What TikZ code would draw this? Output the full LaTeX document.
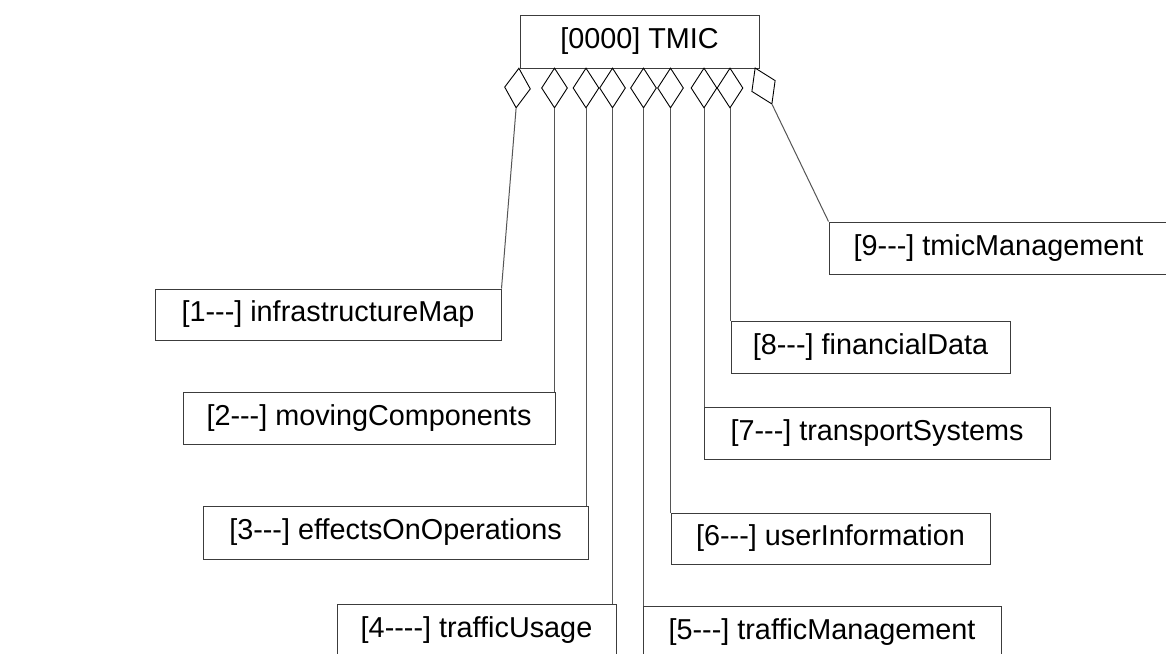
\documentclass[tikz,border=0pt]{standalone}
\usepackage{fontspec}
\setmainfont{Liberation Sans}[Ligatures=TeXOff]
\usetikzlibrary{shapes.geometric}
\definecolor{boxline}{RGB}{60,60,60}
\definecolor{conn}{RGB}{85,85,85}
\tikzset{
  box/.style={draw=boxline, line width=1pt, rectangle, inner sep=0pt, font=\fontsize{28.8}{34}\selectfont},
  agg/.style={draw=black, line width=0.9pt, diamond, inner sep=0pt, minimum width=26pt, minimum height=40pt},
  link/.style={draw=conn, line width=1pt}
}
\begin{document}
\begin{tikzpicture}[x=1pt,y=-1pt]
\useasboundingbox (0,0) rectangle (1166,653);
\clip (0,0) rectangle (1166,653);
\fill[white] (0,0) rectangle (1166,653);
% top class
\node[box, minimum width=239pt, minimum height=53pt] (top) at (639.5,41.5) {[0000] TMIC};
% parts
\node[box, minimum width=346pt, minimum height=51pt] (b1) at (328,314.5) {[1-{}-{}-] infrastructureMap};
\node[box, minimum width=372pt, minimum height=52pt] (b2) at (369,418) {[2-{}-{}-] movingComponents};
\node[box, minimum width=385pt, minimum height=53pt] (b3) at (395.5,532.5) {[3-{}-{}-] effectsOnOperations};
\node[box, minimum width=279pt, minimum height=52pt] (b4) at (476.5,630) {[4-{}-{}-{}-] trafficUsage};
\node[box, minimum width=358pt, minimum height=52pt] (b5) at (822,632) {[5-{}-{}-] trafficManagement};
\node[box, minimum width=319pt, minimum height=51pt] (b6) at (830.5,538.5) {[6-{}-{}-] userInformation};
\node[box, minimum width=346pt, minimum height=52pt] (b7) at (877,433) {[7-{}-{}-] transportSystems};
\node[box, minimum width=279pt, minimum height=52pt] (b8) at (870.5,347) {[8-{}-{}-] financialData};
\node[box, minimum width=339pt, minimum height=52pt] (b9) at (998.5,248) {[9-{}-{}-] tmicManagement};
% aggregation diamonds
\node[agg, rotate=-4] (d1) at (517.5,88) {};
\node[agg] (d2) at (554.5,88) {};
\node[agg] (d3) at (586,88) {};
\node[agg] (d4) at (612.5,88) {};
\node[agg] (d5) at (643.5,88) {};
\node[agg] (d6) at (670.5,88) {};
\node[agg] (d7) at (704,88) {};
\node[agg] (d8) at (730,88) {};
\node[agg, rotate=25] (d9) at (763.5,86) {};
% connectors
\draw[link] (d1.south) -- (b1.north east);
\draw[link] (d2.south) -- (d2.south |- b2.north);
\draw[link] (d3.south) -- (d3.south |- b3.north);
\draw[link] (d4.south) -- (d4.south |- b4.north);
\draw[link] (d5.south) -- (d5.south |- b5.north);
\draw[link] (d6.south) -- (d6.south |- b6.north);
\draw[link] (d7.south) -- (d7.south |- b7.north);
\draw[link] (d8.south) -- (d8.south |- b8.north);
\draw[link] (d9.south) -- (b9.north west);
\end{tikzpicture}
\end{document}
